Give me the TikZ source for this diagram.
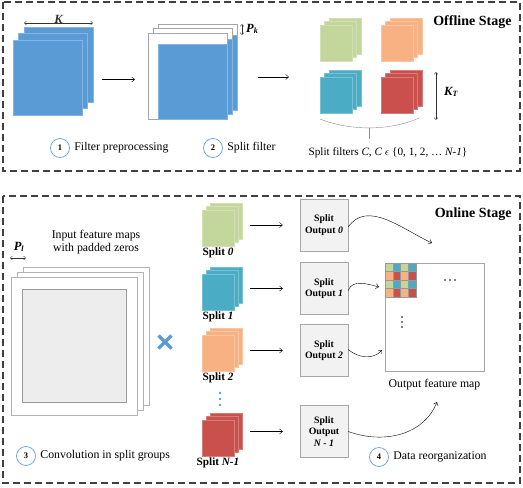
\documentclass[tikz,border=0pt]{standalone}
\usepackage{fontspec}
\setmainfont{Liberation Serif}
\usetikzlibrary{positioning,calc,arrows.meta}
\definecolor{fblue}{HTML}{5B9BD5}
\definecolor{fgreen}{HTML}{C3D69B}
\definecolor{forange}{HTML}{F7B183}
\definecolor{fcyan}{HTML}{4BACC6}
\definecolor{fred}{HTML}{C9504D}

\begin{document}
\begin{tikzpicture}[x=1pt,y=-1pt,>={Straight Barb[length=3pt,width=5pt]},
  stage/.style={draw=black!75, line width=1.1pt, dash pattern=on 7pt off 4pt},
  layer/.style={draw=#1!75!white, fill=#1, inner sep=0pt, outer sep=0pt, anchor=north west},
  numcirc/.style={circle, draw=fblue!85, line width=0.8pt, minimum size=19pt, inner sep=0pt,
    font=\fontsize{8.5}{9}\selectfont\bfseries},
  lbl/.style={font=\fontsize{11.8}{13.5}\selectfont},
  stagelbl/.style={anchor=east, font=\fontsize{14}{16}\selectfont\bfseries},
  symlbl/.style={font=\fontsize{12.5}{13}\selectfont\bfseries\itshape, inner sep=1pt},
  splitlbl/.style={font=\fontsize{11.2}{12}\selectfont\bfseries, inner sep=1pt},
  splitbox/.style={draw=black!35, fill=black!5, minimum width=48pt, minimum height=52pt,
    align=center, inner sep=1pt, font=\fontsize{9.8}{11.5}\selectfont\bfseries},
  dimarrow/.style={<->, >={Straight Barb[length=2pt,width=3.5pt]}, black!80, thin}]
  \useasboundingbox (0,0) rectangle (523,488);

  % Stage frames
  \draw[stage] (3,2) rectangle (520,171);
  \draw[stage] (3,196) rectangle (520,483);
  \node[stagelbl] (offline) at (515,22) {Offline Stage};
  \node[stagelbl] (online) at (515,214) {Online Stage};

  % ---------------- Offline stage ----------------
  % Original filters (K x K)
  \foreach \i in {2,1,0}
    \node[layer=fblue, minimum width=69pt, minimum height=75pt] (kf\i) at ({13+5.5*\i},{40-6.5*\i}) {};
  \draw[dimarrow] ([yshift=4pt]kf2.north west) -- ([yshift=4pt]kf2.north east)
    node[midway, above=-1.5pt, symlbl] {K};

  % Padded filters
  \foreach \i in {2,1,0} {
    \node[layer=white, draw=black!35, minimum width=79pt, minimum height=86pt] (sf\i) at ({148+5*\i},{33-4.5*\i}) {};
    \node[layer=fblue, anchor=south east, minimum width=69pt, minimum height=75pt] (sb\i) at (sf\i.south east) {};
  }
  \draw[dimarrow] ([xshift=5pt]sf2.north east) -- ([xshift=5pt]sf2.north east |- sb2.north);
  \node[anchor=west, symlbl] (pk) at ([xshift=8pt,yshift=-5pt]sf2.north east)
    {P\textsubscript{\fontsize{8}{8}\selectfont k}};

  % Split filters
  \foreach \name/\col/\x/\y in {gf/fgreen/320/25, of/forange/381/25, cf/fcyan/320/77, rf/fred/381/77}
    \foreach \i in {2,1,0}
      \node[layer=\col, minimum width=32pt, minimum height=36pt] (\name\i) at ({\x+4.5*\i},{\y-3.5*\i}) {};
  \draw[dimarrow] (436,72) -- (436,120);
  \node[anchor=west, symlbl] (kt) at (443,92) {K\textsubscript{\fontsize{8}{8}\selectfont T}};
  \draw[black!45] (cf0.south west) ++(0,6) .. controls (350,131) and (390,131) .. (419,118);
  \draw[black!45] (369,128) -- (369,139);
  \node[font=\fontsize{11.2}{13}\selectfont] (splitf) at (388,153)
    {Split filters \textit{C}, \textit{C} $\epsilon$ \{0, 1, 2, \dots\ \textit{N-1}\}};

  % Arrows between filter steps
  \draw[->] ([xshift=20pt,yshift=-2pt]kf0.east) -- ([xshift=-13pt,yshift=-2pt]kf0.east -| sf0.west);
  \draw[->] ([xshift=31pt,yshift=-1pt]sf0.east) -- ([xshift=-31pt,yshift=-1pt]sf0.east -| gf0.west);

  % Step labels
  \node[numcirc] (s1) at (60,148) {1};
  \node[lbl, right=1pt of s1] (s1t) {Filter preprocessing};
  \node[numcirc] (s2) at (213,148) {2};
  \node[lbl, right=1pt of s2] (s2t) {Split filter};

  % ---------------- Online stage ----------------
  % Input feature maps
  \node[lbl, align=center] (inlbl) at (96,242) {Input feature maps\\with padded zeros};
  \foreach \i in {2,1,0}
    \node[layer=white, draw=black!30, minimum width=126pt, minimum height=138pt] (in\i) at ({11+6*\i},{277-5*\i}) {};
  \draw[black!40, fill=black!7] (22,289) rectangle (126,402);
  \draw[dimarrow] (10,258) -- (26,258);
  \node[symlbl] (pl) at (19,247) {P\textsubscript{\fontsize{8}{8}\selectfont l}};

  % Convolution sign
  \draw[fblue, line width=3.5pt] (158.5,335.5) -- (171.5,348.5) (158.5,348.5) -- (171.5,335.5);

  % Split groups
  \foreach \name/\col/\y in {gs/fgreen/210, cs/fcyan/274, os/forange/335, rs/fred/420}
    \foreach \i in {2,1,0}
      \node[layer=\col, minimum width=32pt, minimum height=36pt] (\name\i) at ({202+4*\i},{\y-3.5*\i}) {};
  \node[splitlbl, below=1pt of gs0] (gsl) {Split \textit{0}};
  \node[splitlbl, below=1pt of cs0] (csl) {Split \textit{1}};
  \node[splitlbl, below=1pt of os0] (osl) {Split \textit{2}};
  \node[splitlbl, below=1pt of rs0] (rsl) {Split \textit{N-1}};
  \foreach \y in {393,399,405}
    \fill[fblue] (220,\y) circle (1.3);

  % Split outputs
  \node[splitbox] (so0) at (324,225) {Split\\Output \textit{0}};
  \node[splitbox] (so1) at (324,288.5) {Split\\Output \textit{1}};
  \node[splitbox] (so2) at (324,350.5) {Split\\Output \textit{2}};
  \node[splitbox] (so3) at (324,431.5) {Split\\Output\\\textit{N - 1}};
  \foreach \s/\o in {gs/so0, cs/so1, os/so2, rs/so3}
    \draw[->, shorten <=8pt, shorten >=17pt] (\s2.east |- \o) -- (\o.west);

  % Output feature map
  \node[draw=black!35, fill=white, minimum width=99pt, minimum height=108pt, inner sep=0pt] (om) at (434.5,317) {};
  \foreach \r/\rowcols in {0/{fgreen,fcyan,fgreen,fcyan}, 1/{forange,fred,forange,fred},
                           2/{fgreen,fcyan,fgreen,fcyan}, 3/{forange,fred,forange,fred}}
    \foreach \cc [count=\c from 0] in \rowcols
      \draw[black!40, fill=\cc] ({385+7.75*\c},{263+8.5*\r}) rectangle ++(7.75,8.5);
  \foreach \x in {445,450,455}
    \fill (\x,280) circle (0.9);
  \foreach \y in {317,322,327}
    \fill (402,\y) circle (0.9);
  \node[lbl, below=4pt of om] (omlbl) {Output feature map};

  % Reorganization arrows
  \coordinate (t0) at (432,243);
  \coordinate (t1) at (379,287);
  \coordinate (t2) at (382,350);
  \coordinate (t3) at (437,402);
  \draw[->] ([yshift=-2pt]so0.east) to[out=55, in=155] (t0);
  \draw[->] ([yshift=-2pt]so1.east) to[out=70, in=165] (t1);
  \draw[->] ([yshift=1pt]so2.east) to[out=-40, in=-130] (t2);
  \draw[->] (so3.east) to[out=-20, in=-112] (t3);

  % Step labels
  \node[numcirc] (s3) at (26,456) {3};
  \node[lbl, right=1pt of s3] (s3t) {Convolution in split groups};
  \node[numcirc] (s4) at (379,457) {4};
  \node[lbl, right=1pt of s4] (s4t) {Data reorganization};
\end{tikzpicture}
\end{document}
